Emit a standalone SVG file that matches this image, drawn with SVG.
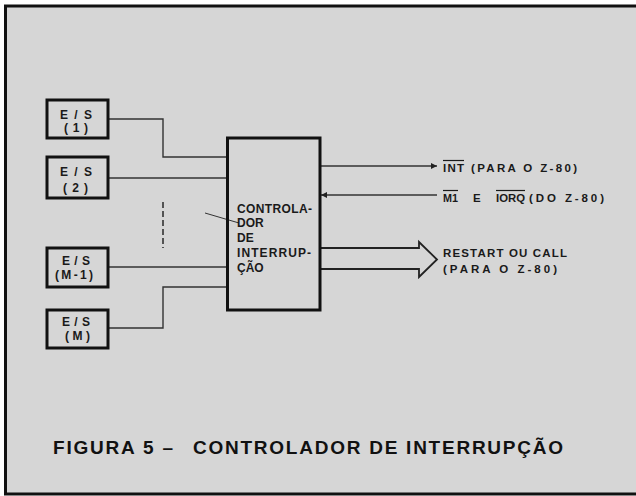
<svg xmlns="http://www.w3.org/2000/svg" width="636" height="496" viewBox="0 0 636 496">
  <style>
    .box { fill: none; stroke: #111; stroke-width: 3; }
    .wire { fill: none; stroke: #333; stroke-width: 1.4; }
    .lbl { font-family: "Liberation Sans", Arial, sans-serif; font-size: 12px; font-weight: bold; fill: #1a1a1a; }
    .ctr { font-family: "Liberation Sans", Arial, sans-serif; font-size: 12px; font-weight: bold; fill: #1a1a1a; }
    .rt { font-family: "Liberation Sans", Arial, sans-serif; font-size: 11.5px; font-weight: bold; fill: #1a1a1a; }
    .ttl { font-family: "Liberation Sans", Arial, sans-serif; font-size: 19px; font-weight: bold; fill: #111; }
    .ovl { stroke: #1a1a1a; stroke-width: 1.2; }
  </style>
  <defs>
    <marker id="ah" viewBox="0 0 10 10" refX="10" refY="5" markerWidth="7" markerHeight="6" markerUnits="userSpaceOnUse" orient="auto">
      <path d="M0,0 L10,5 L0,10 Z" fill="#222"/>
    </marker>
  </defs>

  <rect x="0" y="0" width="636" height="496" fill="#ffffff"/>
  <rect x="5" y="6" width="631" height="488" fill="#d6d6d6"/>
  <g id="frame" fill="none" stroke="#111" stroke-width="3">
    <line x1="4" y1="6" x2="636" y2="6"/>
    <line x1="5.5" y1="5" x2="5.5" y2="495"/>
    <line x1="4" y1="494" x2="636" y2="494"/>
  </g>

  <g id="connectors">
    <polyline class="wire" points="108,119 163,119 163,157 227,157"/>
    <line class="wire" x1="108" y1="178" x2="227" y2="178"/>
    <line class="wire" x1="163" y1="202" x2="163" y2="248" stroke-dasharray="6 3" style="stroke-width:1.6"/>
    <line class="wire" x1="108" y1="267" x2="227" y2="267"/>
    <polyline class="wire" points="108,328 163,328 163,287 227,287"/>
    <line class="wire" x1="205" y1="213" x2="239" y2="223" style="stroke-width:1"/>
    <line class="wire" x1="320" y1="166" x2="437" y2="166" marker-end="url(#ah)"/>
    <line class="wire" x1="437" y1="195" x2="321" y2="195" marker-end="url(#ah)"/>
    <path class="wire" d="M320,248 L419,248 L419,242 L437,259.5 L419,277 L419,269 L320,269" style="stroke-width:1.8;stroke:#222"/>
  </g>

  <g id="es1">
    <rect class="box" x="47" y="100" width="61" height="38"/>
    <text class="lbl" x="60" y="119" textLength="32" lengthAdjust="spacing">E/S</text>
    <text class="lbl" x="64" y="132" textLength="24" lengthAdjust="spacing">(1)</text>
  </g>
  <g id="es2">
    <rect class="box" x="47" y="157" width="61" height="41"/>
    <text class="lbl" x="60" y="176" textLength="32" lengthAdjust="spacing">E/S</text>
    <text class="lbl" x="63" y="192" textLength="25" lengthAdjust="spacing">(2)</text>
  </g>
  <g id="esm1">
    <rect class="box" x="47" y="248" width="61" height="39"/>
    <text class="lbl" x="62" y="265" textLength="28" lengthAdjust="spacing">E/S</text>
    <text class="lbl" x="55" y="279" textLength="38" lengthAdjust="spacing">(M-1)</text>
  </g>
  <g id="esm">
    <rect class="box" x="47" y="310" width="61" height="38"/>
    <text class="lbl" x="62" y="326" textLength="28" lengthAdjust="spacing">E/S</text>
    <text class="lbl" x="65" y="340" textLength="25" lengthAdjust="spacing">(M)</text>
  </g>

  <g id="controller">
    <rect class="box" x="227.5" y="138" width="92.5" height="172"/>
    <text class="ctr" x="237" y="213" textLength="75" lengthAdjust="spacing">CONTROLA-</text>
    <text class="ctr" x="237" y="227">DOR</text>
    <text class="ctr" x="237" y="242">DE</text>
    <text class="ctr" x="237" y="257" textLength="74" lengthAdjust="spacing">INTERRUP-</text>
    <text class="ctr" x="237" y="272">ÇÃO</text>
  </g>

  <g id="signal-labels">
    <text class="rt" x="443" y="172" textLength="21" lengthAdjust="spacing">INT</text>
    <line class="ovl" x1="443" y1="160.5" x2="464" y2="160.5"/>
    <text class="rt" x="471" y="172" textLength="106" lengthAdjust="spacing">(PARA O Z-80)</text>

    <text class="rt" x="443" y="202" textLength="15" lengthAdjust="spacingAndGlyphs">M1</text>
    <line class="ovl" x1="443" y1="190.5" x2="458" y2="190.5"/>
    <text class="rt" x="473" y="202">E</text>
    <text class="rt" x="496" y="202" textLength="29" lengthAdjust="spacingAndGlyphs">IORQ</text>
    <line class="ovl" x1="496" y1="190.5" x2="525" y2="190.5"/>
    <text class="rt" x="529" y="202" textLength="75" lengthAdjust="spacing">(DO Z-80)</text>

    <text class="rt" x="443" y="257" textLength="124" lengthAdjust="spacing">RESTART OU CALL</text>
    <text class="rt" x="443" y="273" textLength="114" lengthAdjust="spacing">(PARA O Z-80)</text>
  </g>

  <text class="ttl" y="454"><tspan x="53" textLength="120" lengthAdjust="spacing">FIGURA 5 –</tspan><tspan x="193" textLength="370" lengthAdjust="spacing">CONTROLADOR DE INTERRUPÇÃO</tspan></text>
</svg>
